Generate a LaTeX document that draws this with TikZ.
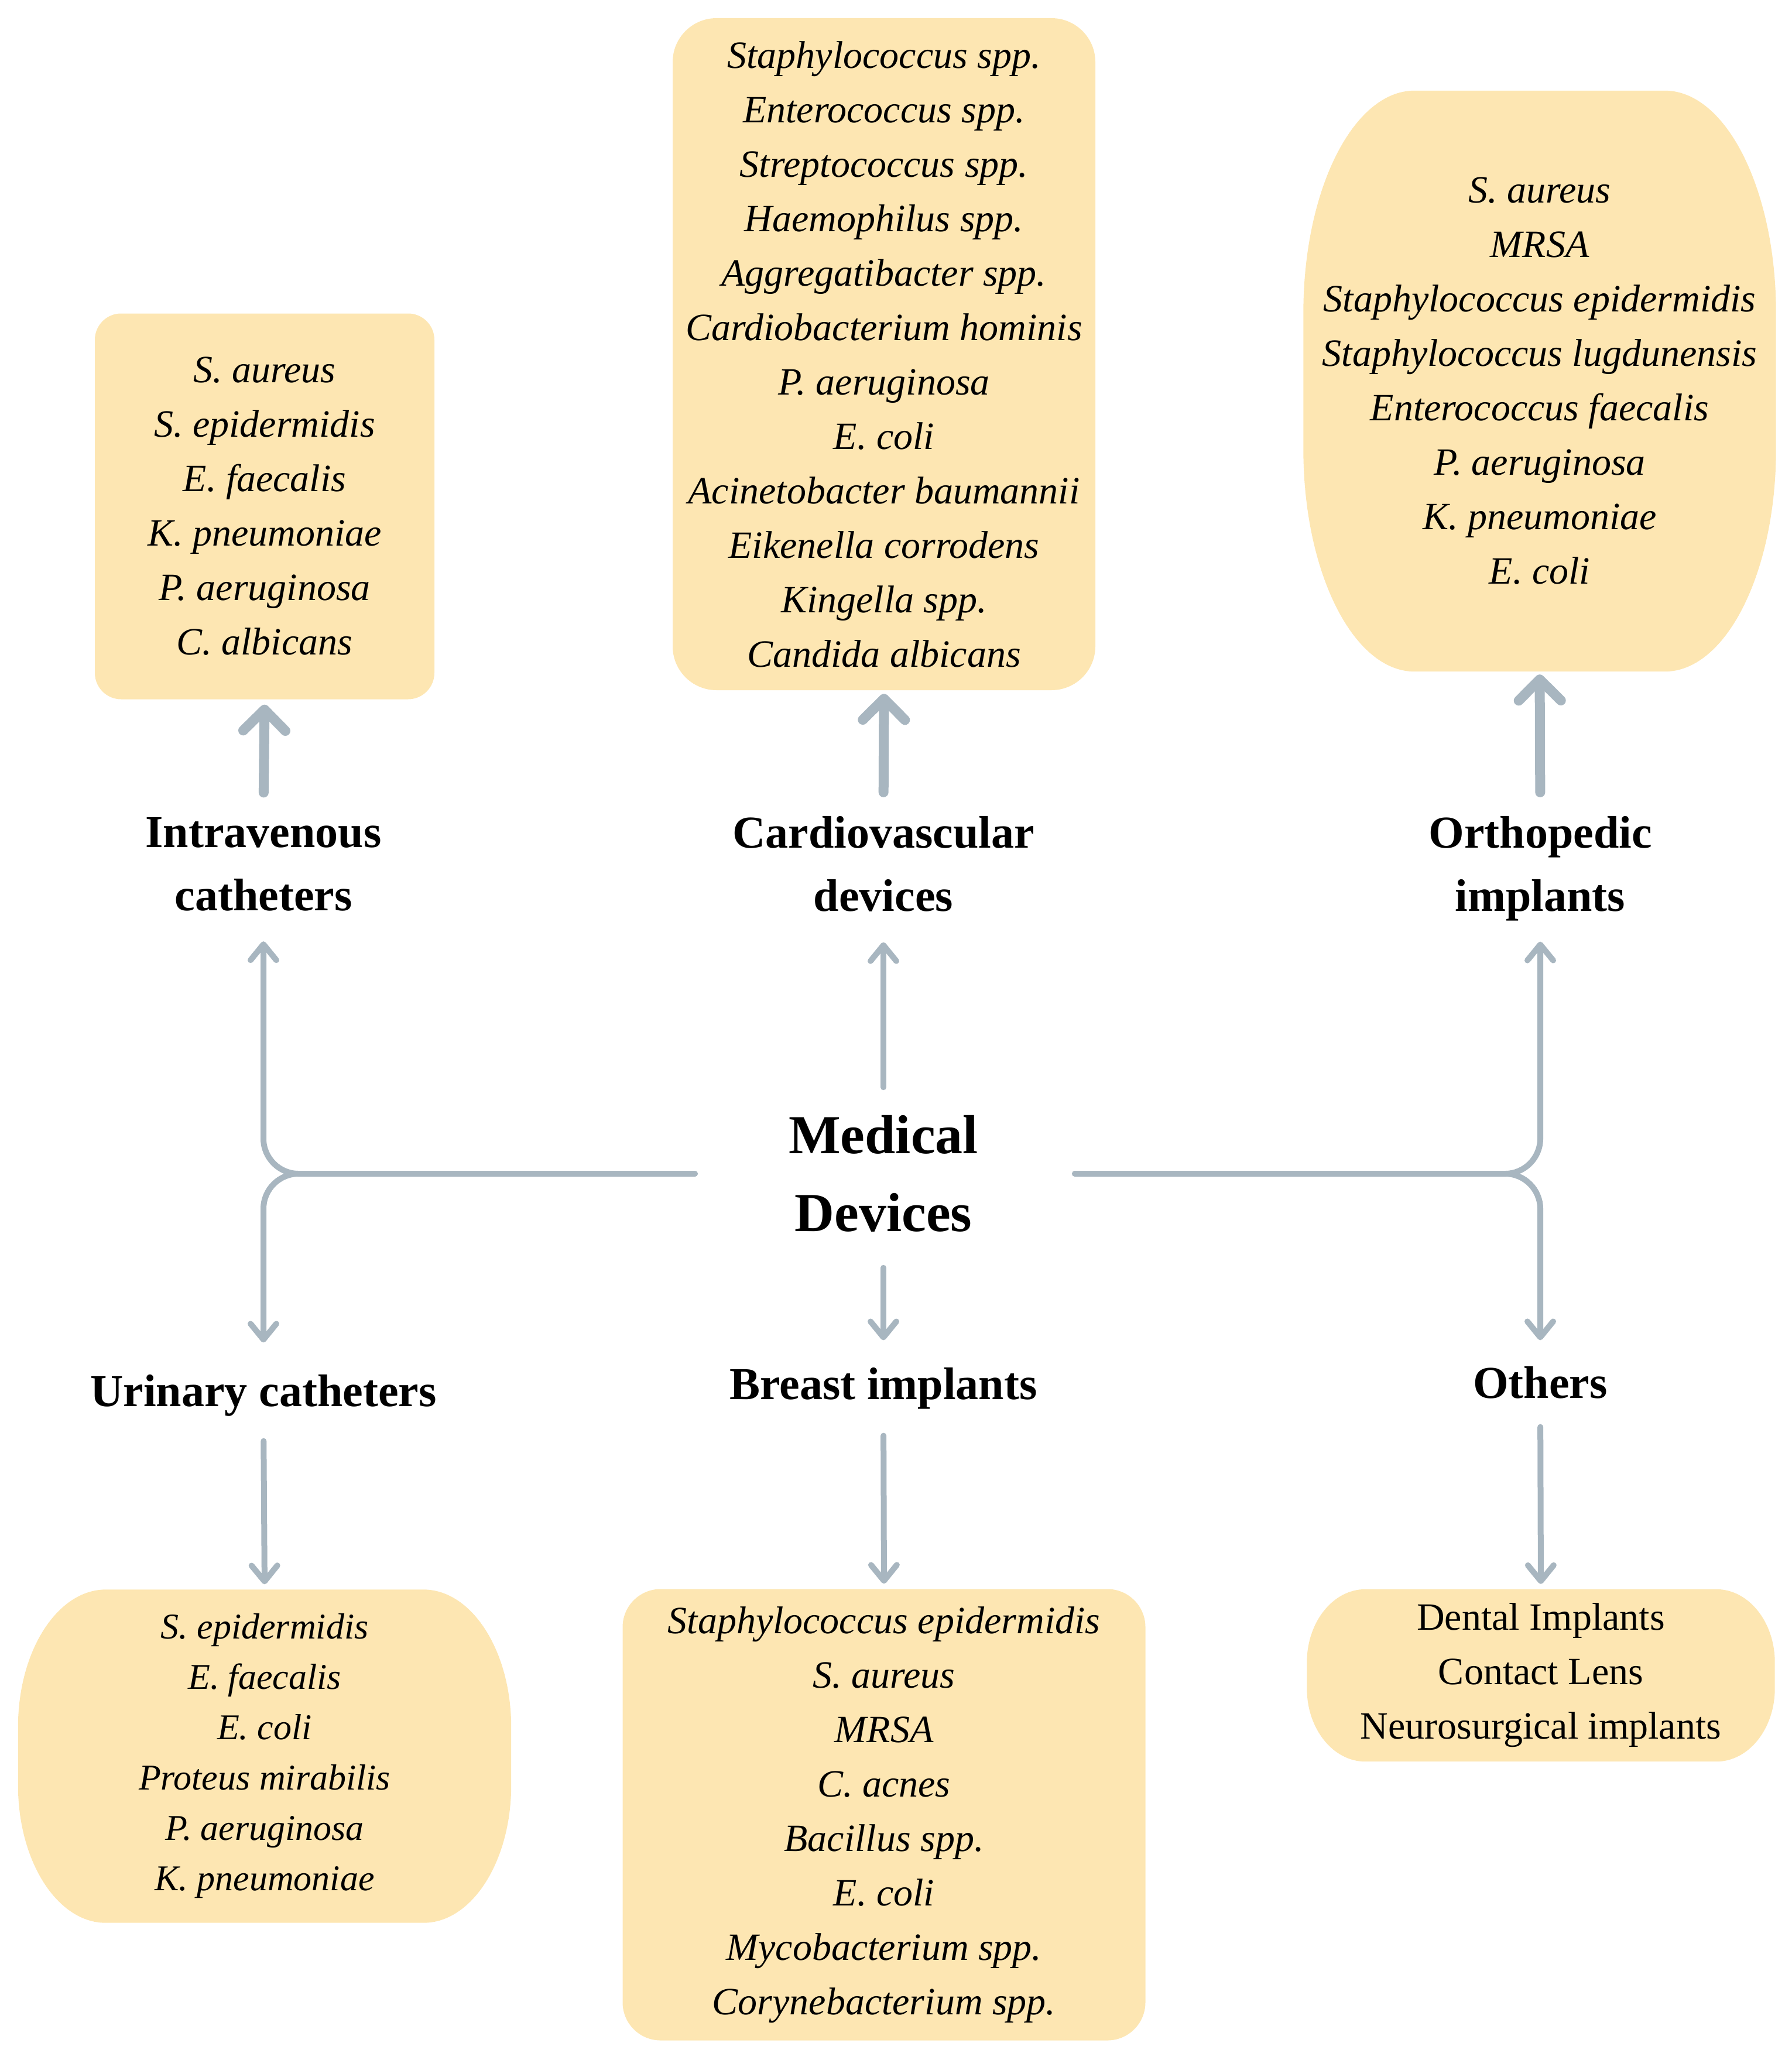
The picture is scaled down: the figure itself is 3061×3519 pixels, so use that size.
\documentclass[tikz,border=0pt]{standalone}
\usepackage{fontspec}
\setmainfont{Liberation Serif}
\usetikzlibrary{arrows.meta,backgrounds,positioning}

\definecolor{boxfill}{HTML}{FDE6B2}
\definecolor{linkgray}{HTML}{A8B6C0}

% box with elliptical corners: node, x radius, y radius
\newcommand\softbox[3]{%
  \fill[boxfill] ([xshift=#2]#1.north west) -- ([xshift=-#2]#1.north east)
    arc[start angle=90, end angle=0, x radius=#2, y radius=#3]
    -- ([yshift=#3]#1.south east)
    arc[start angle=0, end angle=-90, x radius=#2, y radius=#3]
    -- ([xshift=#2]#1.south west)
    arc[start angle=270, end angle=180, x radius=#2, y radius=#3]
    -- ([yshift=-#3]#1.north west)
    arc[start angle=180, end angle=90, x radius=#2, y radius=#3] -- cycle;}

\tikzset{
  species/.style={align=center, inner sep=0pt, font=\fontsize{66}{93}\selectfont\itshape},
  device/.style={align=center, inner sep=0pt, font=\fontsize{78}{108}\selectfont\bfseries},
  biglink/.style={draw=linkgray, line width=17pt, line cap=round,
    -{Straight Barb[length=36pt,width=72pt,round]}},
  link/.style={draw=linkgray, line width=10pt, line cap=round, rounded corners=60pt,
    -{Straight Barb[length=27pt,width=44pt,round]}},
}

\begin{document}
\begin{tikzpicture}[x=1pt, y=1pt]
  \useasboundingbox (0,0) rectangle (3061,-3519);

  % centre
  \node[align=center, inner sep=0pt, font=\fontsize{94}{133}\selectfont\bfseries] (med) at (1509,-2005) {Medical\\Devices};

  % device labels
  \node[device] (ivl) at (450,-1476) {Intravenous\\catheters};
  \node[device] (cvl) at (1509,-1476) {Cardiovascular\\devices};
  \node[device] (orl) at (2631,-1484) {Orthopedic\\implants};
  \node[device] (url) at (450,-2384) {Urinary catheters};
  \node[device] (bil) at (1509,-2372) {Breast implants};
  \node[device] (otl) at (2631,-2362) {Others};

  % organism boxes
  \node[species, fill=boxfill, rounded corners=45pt, minimum width=580pt, minimum height=659pt] (ivb) at (452,-865)
    {S. aureus\\S. epidermidis\\E. faecalis\\K. pneumoniae\\P. aeruginosa\\C. albicans};
  \node[species, fill=boxfill, rounded corners=75pt, minimum width=722pt, minimum height=1148pt] (cvb) at (1510,-605)
    {Staphylococcus spp.\\Enterococcus spp.\\Streptococcus spp.\\Haemophilus spp.\\Aggregatibacter spp.\\Cardiobacterium hominis\\P. aeruginosa\\E. coli\\Acinetobacter baumannii\\Eikenella corrodens\\Kingella spp.\\Candida albicans};
  \node[species, minimum width=807pt, minimum height=992pt] (orb) at (2630,-651)
    {S. aureus\\MRSA\\Staphylococcus epidermidis\\Staphylococcus lugdunensis\\Enterococcus faecalis\\P. aeruginosa\\K. pneumoniae\\E. coli};
  \node[species, font=\fontsize{62}{86}\selectfont\itshape, minimum width=842pt, minimum height=569pt] (urb) at (452,-3000)
    {S. epidermidis\\E. faecalis\\E. coli\\Proteus mirabilis\\P. aeruginosa\\K. pneumoniae};
  \node[species, fill=boxfill, rounded corners=65pt, minimum width=893pt, minimum height=771pt] (bib) at (1510,-3100)
    {Staphylococcus epidermidis\\S. aureus\\MRSA\\C. acnes\\Bacillus spp.\\E. coli\\Mycobacterium spp.\\Corynebacterium spp.};
  \node[species, font=\fontsize{66}{93}\selectfont, minimum width=799pt, minimum height=294pt] (otb) at (2632,-2862)
    {Dental Implants\\Contact Lens\\Neurosurgical implants};

  \begin{scope}[on background layer]
    \softbox{orb}{190pt}{380pt}
    \softbox{urb}{150pt}{235pt}
    \softbox{otb}{100pt}{125pt}
  \end{scope}

  % thick arrows up to the boxes
  \draw[biglink, shorten <=42pt, shorten >=9pt] (ivl.north) -- (ivb.south);
  \draw[biglink, shorten <=41pt, shorten >=6pt] (cvl.north) -- (cvb.south);
  \draw[biglink, shorten <=41pt, shorten >=5pt] (orl.north) -- (orb.south);

  % branches from the centre
  \draw[link, shorten <=160pt, shorten >=52pt] (med.west) -| (ivl.south);
  \draw[link, shorten <=160pt, shorten >=55pt] (med.west) -| (url.north);
  \draw[link, shorten <=165pt, shorten >=35pt] (med.east) -| (orl.south);
  \draw[link, shorten <=165pt, shorten >=45pt] (med.east) -| (otl.north);
  \draw[link, shorten <=48pt, shorten >=52pt] (med.north) -- (cvl.south);
  \draw[link, shorten <=61pt, shorten >=47pt] (med.south) -- (bil.north);

  % arrows down to the boxes
  \draw[link, shorten <=42pt, shorten >=9pt] (url.south) -- (urb.north);
  \draw[link, shorten <=45pt, shorten >=9pt] (bil.south) -- (bib.north);
  \draw[link, shorten <=48pt, shorten >=9pt] (otl.south) -- (otb.north);
\end{tikzpicture}
\end{document}
